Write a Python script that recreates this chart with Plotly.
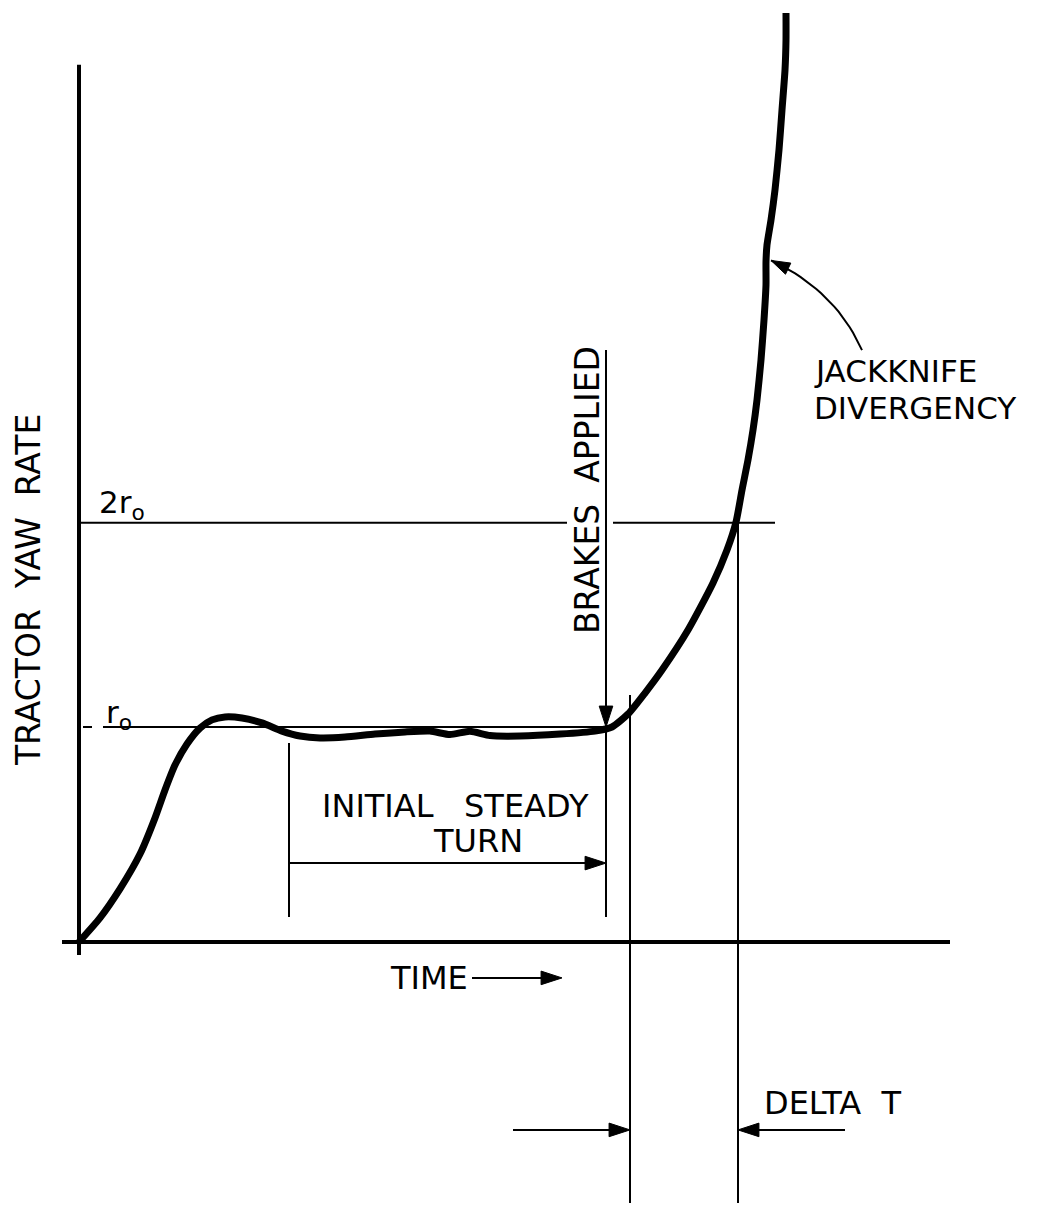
import plotly.graph_objects as go

# ---------------- data (time in arbitrary units, yaw rate in units of r0) ----------------
time_curve = [0.00, 0.21, 0.41, 0.61, 0.76, 0.86, 0.96, 1.08, 1.21, 1.33, 1.46, 1.63, 1.83,
              2.03, 2.21, 2.41, 2.66, 2.96, 3.26, 3.51, 3.71, 3.91, 4.11, 4.41,
              4.81, 5.16, 5.33, 5.49, 5.66, 5.83, 6.09, 6.34, 6.48, 6.57, 6.63, 6.69, 6.74,
              6.78, 6.82, 6.85, 6.87, 6.87, 6.88, 6.92, 6.96, 7.00, 7.03, 7.06, 7.07, 7.07]
yaw_curve = [0.000, 0.112, 0.247, 0.409, 0.577, 0.707, 0.823, 0.921, 0.995, 1.033, 1.047,
             1.042, 1.019, 0.981, 0.958, 0.949, 0.953, 0.967, 0.977, 0.981, 0.965, 0.980,
             0.960, 0.958, 0.967, 0.981, 1.000, 1.060, 1.158, 1.265, 1.451,
             1.670, 1.823, 1.953, 2.102, 2.242, 2.381, 2.521, 2.707, 2.893, 3.056, 3.163,
             3.242, 3.358, 3.498, 3.684, 3.870, 4.056, 4.195, 4.321]

R0_LEVEL = 1.0          # steady yaw rate r0
R2_LEVEL = 1.95         # level drawn as 2 r0
T_STEADY_START = 2.10   # start of initial steady turn
T_BRAKE = 5.27          # brakes applied
T_REF = 5.51            # reference time for delta T
T_DOUBLE = 6.59         # time at which yaw rate reaches 2 r0

level_labels = ["2r<sub>o</sub>", "r<sub>o</sub>"]
NB = "\u00a0"
text_labels = {
    "ylabel": "TRACTOR" + NB * 2 + "YAW" + NB * 2 + "RATE",
    "brakes": "BRAKES" + NB * 2 + "APPLIED",
    "jack1": "JACKKNIFE",
    "jack2": "DIVERGENCY",
    "steady1": "INITIAL" + NB * 3 + "STEADY",
    "steady2": "TURN",
    "time": "TIME",
    "delta": "DELTA" + NB * 2 + "T",
}

# ---------------- figure ----------------
FAMILY = "DejaVu Sans, Liberation Sans, sans-serif"
BLACK = "black"

fig = go.Figure()


def seg(xs, ys, w=2):
    fig.add_trace(go.Scatter(x=xs, y=ys, mode="lines", line=dict(color=BLACK, width=w),
                             hoverinfo="skip", showlegend=False))


def arrow_line(xs, ys, w=2, head=22):
    sizes = [0] * (len(xs) - 1) + [head]
    fig.add_trace(go.Scatter(x=xs, y=ys, mode="lines+markers",
                             line=dict(color=BLACK, width=w),
                             marker=dict(symbol="arrow", size=sizes, angleref="previous",
                                         color=BLACK, opacity=1,
                                         line=dict(width=1, color=BLACK)),
                             hoverinfo="skip", showlegend=False))


# axes
seg([0, 0], [-0.06, 4.08], 4)
seg([-0.17, 8.71], [0, 0], 4)

# reference levels
seg([0, T_BRAKE - 0.39], [R2_LEVEL, R2_LEVEL], 2)
seg([T_BRAKE + 0.07, T_DOUBLE + 0.37], [R2_LEVEL, R2_LEVEL], 2)
seg([0.04, 0.13], [R0_LEVEL, R0_LEVEL], 2)
seg([0.24, T_BRAKE + 0.04], [R0_LEVEL, R0_LEVEL], 2)

# vertical construction lines
seg([T_STEADY_START, T_STEADY_START], [0.926, 0.116], 2)
seg([T_BRAKE, T_BRAKE], [0.986, 0.116], 2)
seg([T_REF, T_REF], [1.149, -1.214], 2)
seg([T_DOUBLE, T_DOUBLE], [R2_LEVEL, -1.214], 2)

# main yaw rate curve
fig.add_trace(go.Scatter(x=time_curve, y=yaw_curve, mode="lines",
                         line=dict(color=BLACK, width=7, shape="spline", smoothing=0.6),
                         hoverinfo="skip", showlegend=False))

# jackknife pointer (curved)
jx0, jy0, jcx, jcy, jx1, jy1 = 7.83, 2.753, 7.56, 3.033, 6.92, 3.170
curve_x, curve_y = [], []
for i in range(21):
    s = i / 20
    curve_x.append((1 - s) ** 2 * jx0 + 2 * (1 - s) * s * jcx + s ** 2 * jx1)
    curve_y.append((1 - s) ** 2 * jy0 + 2 * (1 - s) * s * jcy + s ** 2 * jy1)
arrow_line(curve_x, curve_y, 2, 20)

# straight arrows
arrow_line([T_BRAKE, T_BRAKE], [2.753, R0_LEVEL])                   # brakes applied
arrow_line([T_STEADY_START, T_BRAKE], [0.367, 0.367])               # initial steady turn span
arrow_line([3.93, 4.83], [-0.167, -0.167])                          # time arrow
arrow_line([4.34, T_REF], [-0.874, -0.874])                         # delta T left
arrow_line([7.66, T_DOUBLE], [-0.874, -0.874])                      # delta T right


def label(x, y, text, xanchor="center", angle=0, size=32):
    fig.add_annotation(x=x, y=y, xref="x", yref="y", text=text, showarrow=False,
                       xanchor=xanchor, yanchor="middle", textangle=angle,
                       font=dict(family=FAMILY, size=size, color=BLACK))


label(-0.51, 1.637, text_labels["ylabel"], angle=-90, size=33)
label(5.08, 2.102, text_labels["brakes"], angle=-90, size=33)
label(0.18, 2.035, level_labels[0], xanchor="left", size=31)
label(0.25, 1.06, level_labels[1], xanchor="left", size=31)
label(7.33, 2.656, text_labels["jack1"], xanchor="left", size=31)
label(7.33, 2.484, text_labels["jack2"], xanchor="left", size=31)
label(3.76, 0.633, text_labels["steady1"])
label(3.99, 0.470, text_labels["steady2"])
label(3.91, -0.167, text_labels["time"], xanchor="right")
label(6.83, -0.749, text_labels["delta"], xanchor="left")

fig.update_layout(
    width=1046, height=1205,
    margin=dict(l=0, r=0, t=0, b=0),
    paper_bgcolor="white", plot_bgcolor="white",
    showlegend=False,
    xaxis=dict(range=[-0.79, 9.67], visible=False, fixedrange=True),
    yaxis=dict(range=[-1.2233, 4.3814], visible=False, fixedrange=True),
)

fig.write_html("out.html", config={"displayModeBar": False, "staticPlot": True},
               post_script="document.body.style.margin='0';document.body.style.overflow='hidden';")
